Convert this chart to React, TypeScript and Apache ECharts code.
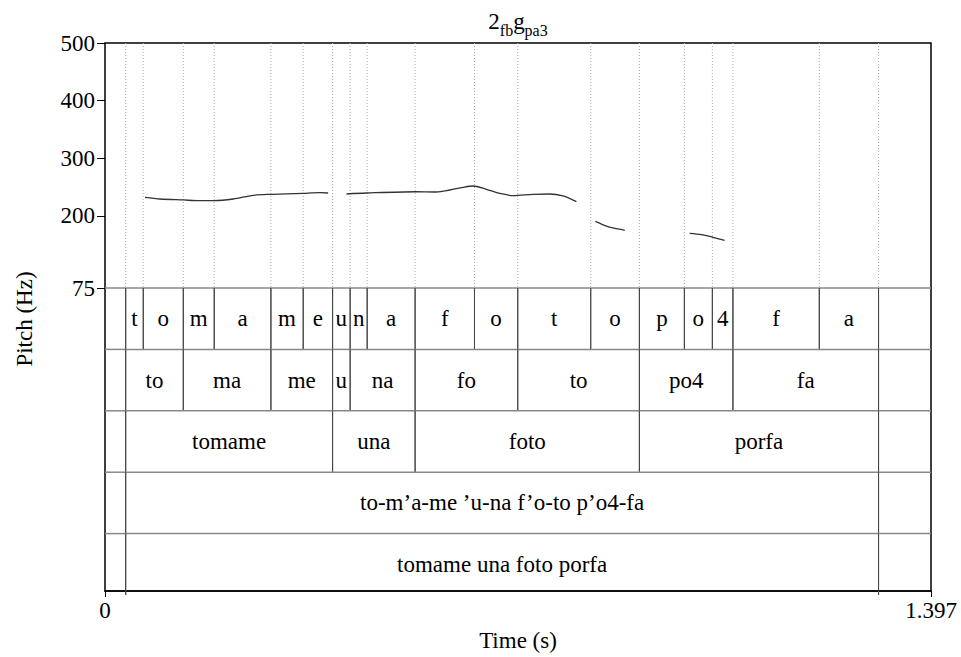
import React, { useEffect, useRef } from "react";
import * as echarts from "echarts";

const FONT = "Liberation Serif";
const T_MAX = 1.397;

// Pitch axis ticks
const pitchTicks = [75, 200, 300, 400, 500];

// Pitch contour (time s, Hz); "-" marks an unvoiced gap
const pitchTime = [
  0.0676, 0.093, 0.1324, 0.1606, 0.1847, 0.2169, 0.2507, 0.2806, 0.3347, 0.3634, 0.3774,
  0.393,
  0.4085, 0.4424, 0.5252, 0.5607, 0.5832, 0.6056, 0.6225, 0.6452, 0.6677, 0.6902, 0.724, 0.7522, 0.7747, 0.7973,
  0.81,
  0.8294, 0.848, 0.8592, 0.879,
  0.93,
  0.9888, 1.0086, 1.0282, 1.048,
];
const pitchHz: (number | string)[] = [
  232.3, 229.4, 227.7, 226.5, 226.5, 229.4, 235.8, 237.5, 239.3, 240.3, 239.8,
  "-",
  238.1, 239.8, 242, 241.5, 245, 249.6, 251.9, 246.2, 239.3, 235.1, 237.5, 238.1, 234.6, 224.7,
  "-",
  190.7, 182.5, 179.1, 175.1,
  "-",
  169.9, 167.6, 163, 157.8,
];

// TextGrid tiers
const phoneBounds = [0, 0.035, 0.0647, 0.1324, 0.1847, 0.2806, 0.3352, 0.3849, 0.4146, 0.4434, 0.5245, 0.6249, 0.6981, 0.8215, 0.9038, 0.9799, 1.0272, 1.062, 1.2081, 1.3083, 1.397];
const phoneLabels = ["", "t", "o", "m", "a", "m", "e", "u", "n", "a", "f", "o", "t", "o", "p", "o", "4", "f", "a", ""];
const syllBounds = [0, 0.035, 0.1324, 0.2806, 0.3849, 0.4146, 0.5245, 0.6981, 0.9038, 1.062, 1.3083, 1.397];
const syllLabels = ["", "to", "ma", "me", "u", "na", "fo", "to", "po4", "fa", ""];
const wordBounds = [0, 0.035, 0.3849, 0.5245, 0.9038, 1.3083, 1.397];
const wordLabels = ["", "tomame", "una", "foto", "porfa", ""];
const phonBounds = [0, 0.035, 1.3083, 1.397];
const phonLabels = ["", "to-m\u2019a-me \u2019u-na f\u2019o-to p\u2019o4-fa", ""];
const sentBounds = [0, 0.035, 1.3083, 1.397];
const sentLabels = ["", "tomame una foto porfa", ""];

const tiers = [
  { bounds: phoneBounds, labels: phoneLabels },
  { bounds: syllBounds, labels: syllLabels },
  { bounds: wordBounds, labels: wordLabels },
  { bounds: phonBounds, labels: phonLabels },
  { bounds: sentBounds, labels: sentLabels },
];

function buildOption() {
  const tierItems: { s: number; e: number; tier: number; label: string }[] = [];
  tiers.forEach((t, ti) => {
    t.labels.forEach((lab, i) => {
      tierItems.push({ s: t.bounds[i], e: t.bounds[i + 1], tier: ti, label: lab });
    });
  });
  const dotted = phoneBounds.filter((b) => b > 0 && b < T_MAX);
  const pitchData = pitchTime.map((t, i) => [t, pitchHz[i]]);

  const left = 105;
  const right = 30;

  return {
    animation: false,
    backgroundColor: "#fff",
    textStyle: { fontFamily: FONT },
    grid: [
      { left, right, top: 43, bottom: 62, show: true, borderColor: "#000", borderWidth: 1.5, backgroundColor: "transparent" },
      { left, right, top: 43, height: 245, show: false },
      { left, right, top: 288, height: 307, show: false },
    ],
    xAxis: [
      {
        gridIndex: 0,
        type: "value",
        min: 0,
        max: T_MAX,
        interval: T_MAX,
        axisLine: { show: true, lineStyle: { color: "#000", width: 1.5 } },
        axisTick: { show: true, length: 6, lineStyle: { color: "#000" } },
        axisLabel: {
          show: true,
          margin: 8,
          color: "#000",
          fontSize: 23,
          fontFamily: FONT,
          showMinLabel: true,
          showMaxLabel: true,
          formatter: (v: number) => (v < 0.5 ? "0" : "1.397"),
        },
        splitLine: { show: false },
        name: "Time (s)",
        nameLocation: "middle",
        nameGap: 38,
        nameTextStyle: { color: "#000", fontSize: 23, fontFamily: FONT },
      },
      { gridIndex: 1, type: "value", min: 0, max: T_MAX, show: false },
      { gridIndex: 2, type: "value", min: 0, max: T_MAX, show: false },
    ],
    yAxis: [
      { gridIndex: 0, type: "value", min: 0, max: 1, show: false },
      {
        gridIndex: 1,
        type: "value",
        min: 75,
        max: 500,
        axisLine: { show: false },
        axisTick: { show: true, length: 8, customValues: pitchTicks, lineStyle: { color: "#000" } },
        axisLabel: { show: true, margin: 10, color: "#000", fontSize: 23, fontFamily: FONT, customValues: pitchTicks },
        splitLine: { show: false },
      },
      { gridIndex: 2, type: "value", min: 0, max: 5, inverse: true, show: false },
    ],
    graphic: [
      {
        type: "text",
        x: 518,
        y: 10,
        style: {
          text: "{n|2}{s|fb}{n|g}{s|pa3}",
          align: "center",
          verticalAlign: "top",
          fill: "#000",
          rich: {
            n: { fontSize: 23, fontFamily: FONT, lineHeight: 28, verticalAlign: "top", fill: "#000" },
            s: { fontSize: 16, fontFamily: FONT, lineHeight: 16, verticalAlign: "bottom", fill: "#000" },
          },
        },
      },
      {
        type: "text",
        x: 24,
        y: 319,
        rotation: Math.PI / 2,
        style: { text: "Pitch (Hz)", align: "center", verticalAlign: "middle", fontSize: 23, fontFamily: FONT, fill: "#000" },
      },
    ],
    series: [
      {
        type: "custom",
        xAxisIndex: 1,
        yAxisIndex: 1,
        data: dotted.map((t) => [t]),
        silent: true,
        renderItem: (params: any, api: any) => {
          const t = api.value(0);
          const a = api.coord([t, 500]);
          const b = api.coord([t, 75]);
          return {
            type: "line",
            shape: { x1: a[0], y1: a[1], x2: b[0], y2: b[1] },
            style: { stroke: "#aaa", lineWidth: 1, lineDash: [1, 2] },
          };
        },
      },
      {
        type: "line",
        xAxisIndex: 1,
        yAxisIndex: 1,
        data: pitchData,
        showSymbol: false,
        connectNulls: false,
        smooth: 0.3,
        silent: true,
        lineStyle: { color: "#333", width: 1.3 },
        z: 5,
      },
      {
        type: "custom",
        xAxisIndex: 2,
        yAxisIndex: 2,
        data: tierItems.map((it) => [it.s, it.e, it.tier]),
        silent: true,
        renderItem: (params: any, api: any) => {
          const it = tierItems[params.dataIndex];
          const p0 = api.coord([it.s, it.tier]);
          const p1 = api.coord([it.e, it.tier + 1]);
          const children: any[] = [
            {
              type: "line",
              shape: { x1: p0[0], y1: p0[1], x2: p1[0], y2: p0[1] },
              style: { stroke: "#888", lineWidth: 1.5 },
            },
          ];
          if (it.s > 0) {
            children.push({ type: "line", shape: { x1: p0[0], y1: p0[1], x2: p0[0], y2: p1[1] }, style: { stroke: "#444", lineWidth: 1 } });
          }
          if (it.e < T_MAX) {
            children.push({ type: "line", shape: { x1: p1[0], y1: p0[1], x2: p1[0], y2: p1[1] }, style: { stroke: "#444", lineWidth: 1 } });
          }
          if (it.label) {
            children.push({
              type: "text",
              x: (p0[0] + p1[0]) / 2,
              y: (p0[1] + p1[1]) / 2,
              style: { text: it.label, align: "center", verticalAlign: "middle", fontSize: 23, fontFamily: FONT, fill: "#000" },
            });
          }
          return { type: "group", children };
        },
      },
    ],
  };
}

export default function App() {
  const ref = useRef<HTMLDivElement>(null);
  useEffect(() => {
    const chart = echarts.init(ref.current!, null, { renderer: "svg" });
    chart.setOption(buildOption() as any);
    return () => chart.dispose();
  }, []);
  return (
    <div
      ref={ref}
      style={{ position: "fixed", left: 0, top: 0, width: 961, height: 657, background: "#fff" }}
    />
  );
}
